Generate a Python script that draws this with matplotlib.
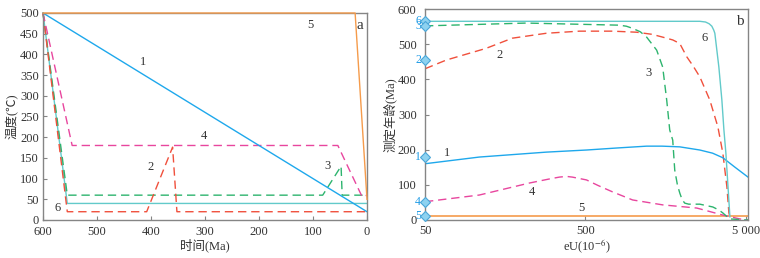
import matplotlib
matplotlib.use("Agg")
import matplotlib.pyplot as plt
from matplotlib.ticker import FixedLocator, NullLocator, FixedFormatter
import matplotlib.transforms as mtransforms

plt.rcParams['font.family'] = ['Liberation Serif', 'Noto Sans CJK SC', 'DejaVu Sans']
plt.rcParams['mathtext.fontset'] = 'stix'

# ---------------- Panel a data (time Ma, temperature C) ----------------
a1_t = [600, 0]
a1_T = [500, 20]
a2_t = [600, 555, 408, 360, 352, 0]
a2_T = [500, 20, 20, 176, 20, 20]
a3_t = [600, 555, 82, 48, 46, 0]
a3_T = [500, 60, 60, 130, 60, 60]
a4_t = [600, 546, 54, 9, 0]
a4_T = [500, 180, 180, 56, 60]
a5_t = [600, 22, 0]
a5_T = [500, 500, 50]
a6_t = [600, 555, 0]
a6_T = [500, 40, 40]

# ---------------- Panel b data (eU ppm, age Ma) ----------------
b1_eU = [50, 109, 285, 507, 800, 1203, 1500, 1934, 2580, 3100, 3590, 4246, 5150]
b1_age = [160, 179, 193, 199, 205, 210, 210, 208, 199, 190, 177, 151, 122]
b2_eU = [50, 68, 120, 175, 285, 459, 737, 1041, 1300, 1514, 1750, 1934, 2140, 2350, 2580,
         2978, 3342, 3590, 3805, 3915, 4030]
b2_age = [430, 455, 488, 517, 531, 537, 537, 534, 528, 520, 512, 502, 464, 437, 407,
          341, 265, 190, 94, 20, 0]
b3_eU = [50, 214, 815, 900, 983, 1100, 1203, 1389, 1514, 1604, 1675, 1749, 1800, 1870,
         1934, 2000, 2078, 2200, 2580, 3110, 3400, 3590, 3800, 3972, 5150]
b3_age = [552, 560, 554, 551, 545, 535, 520, 483, 435, 341, 256, 227, 142, 100,
          77, 58, 48, 45, 45, 37, 28, 20, 10, 3, 0]
b4_eU = [50, 109, 223, 300, 344, 380, 414, 507, 600, 737, 983, 1514, 2470, 3590, 4586, 5150]
b4_age = [52, 71, 105, 117, 122, 124, 122, 114, 98, 80, 57, 43, 34, 14, 3, 0]
b5_eU = [50, 5150]
b5_age = [11, 11]
b6_eU = [50, 2580, 2800, 2950, 3066, 3150, 3200, 3390, 3540, 3645, 3750, 3972]
b6_age = [565, 565, 563, 558, 551, 540, 531, 435, 341, 256, 190, 9]

marker_labels = ['6', '3', '2', '1', '4', '5']
marker_ages = [565, 552, 455, 178, 51, 11]

c1 = '#1EA8EC'
c2 = '#F0503C'
c3 = '#2DB46E'
c4 = '#E8469E'
c5 = '#F59B4B'
c6 = '#62CACA'
spine_c = '#858585'
text_c = '#333333'
dash = (6, 3.5)

fig = plt.figure(figsize=(7.6, 2.58), dpi=100)
ax1 = fig.add_axes([43/760, 1-220/258, 324/760, 207/258])
ax2 = fig.add_axes([425/760, 1-220/258, 323/760, 211/258])

lw = 1.0
# panel a
ax1.plot(a6_t, a6_T, color=c6, lw=lw, clip_on=False)
ax1.plot(a3_t, a3_T, color=c3, lw=lw, dashes=dash, clip_on=False)
ax1.plot(a2_t, a2_T, color=c2, lw=lw, dashes=dash, clip_on=False)
ax1.plot(a4_t, a4_T, color=c4, lw=lw, dashes=dash, clip_on=False)
ax1.plot(a1_t, a1_T, color=c1, lw=lw, clip_on=False)
ax1.plot(a5_t, a5_T, color=c5, lw=lw, clip_on=False, zorder=3)

ax1.set_xlim(600, 0)
ax1.set_ylim(0, 500)
ax1.set_xticks([600, 500, 400, 300, 200, 100, 0])
ax1.set_yticks(list(range(0, 501, 50)))
ax1.set_xlabel('时间(Ma)', fontsize=9, color=text_c, labelpad=1)
ax1.set_ylabel('温度(℃)', fontsize=9, color=text_c, labelpad=1)

for txt, x, y in [('1', 415, 382), ('2', 400, 128), ('3', 74, 130), ('4', 302, 203),
                  ('5', 104, 471), ('6', 572, 30)]:
    ax1.text(x, y, txt, fontsize=9, color=text_c, ha='center', va='center')
ax1.text(0.978, 0.94, 'a', transform=ax1.transAxes, fontsize=11, color=text_c, ha='center', va='center')

# panel b
ax2.plot(b5_eU, b5_age, color=c5, lw=1.2, clip_on=False)
ax2.plot(b4_eU, b4_age, color=c4, lw=lw, dashes=dash)
ax2.plot(b3_eU, b3_age, color=c3, lw=lw, dashes=dash)
ax2.plot(b2_eU, b2_age, color=c2, lw=lw, dashes=dash)
ax2.plot(b1_eU, b1_age, color=c1, lw=lw)
ax2.plot(b6_eU, b6_age, color=c6, lw=lw)

ax2.set_xscale('log')
ax2.set_xlim(50, 5150)
ax2.set_ylim(0, 600)
ax2.xaxis.set_major_locator(FixedLocator([50, 500, 5000]))
ax2.xaxis.set_major_formatter(FixedFormatter(['50', '500', '5 000']))
ax2.xaxis.set_minor_locator(NullLocator())
ax2.set_yticks(list(range(0, 601, 100)))
ax2.set_xlabel('eU(10$^{-6}$)', fontsize=9, color=text_c, labelpad=1)
ax2.set_ylabel('测定年龄(Ma)', fontsize=9, color=text_c, labelpad=1)

ax2.plot([50]*len(marker_ages), marker_ages, linestyle='none', marker='D', markersize=5.5,
         markerfacecolor='#8ED2F0', markeredgecolor='#4AA6D8', markeredgewidth=0.8,
         clip_on=False, zorder=5)
trans = mtransforms.blended_transform_factory(ax2.transAxes, ax2.transData)
for lab, y in zip(marker_labels, marker_ages):
    ax2.text(-0.012, y, lab, transform=trans, fontsize=8.5, color='#1E9BE6', ha='right', va='center')

for txt, x, y in [('6', 2771, 517), ('2', 145, 469), ('3', 1238, 418), ('1', 69, 190),
                  ('4', 233, 80), ('5', 472, 34)]:
    ax2.text(x, y, txt, fontsize=9, color=text_c, ha='center', va='center')
ax2.text(0.975, 0.94, 'b', transform=ax2.transAxes, fontsize=11, color=text_c, ha='center', va='center')

for ax in (ax1, ax2):
    for s in ax.spines.values():
        s.set_color(spine_c)
        s.set_linewidth(1.0)
    ax.tick_params(direction='in', length=3, width=0.8, color=spine_c, labelsize=9,
                   labelcolor=text_c, pad=2)
ax1.tick_params(axis='x', pad=4)
ax1.tick_params(axis='y', pad=3)
ax2.tick_params(axis='y', pad=6)
ax2.tick_params(axis='x', pad=3.5)

fig.savefig('out.png', dpi=100)
